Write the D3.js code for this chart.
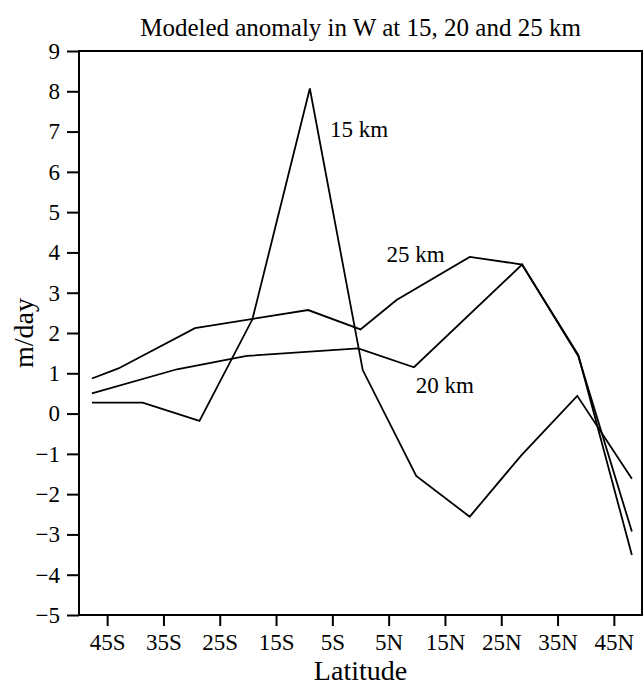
<!DOCTYPE html>
<html>
<head>
<meta charset="utf-8">
<script src="https://cdn.jsdelivr.net/npm/d3@7"></script>
<style>
  body { margin: 0; background: #fff; }
  svg text { font-family: "Liberation Serif", "Times New Roman", serif; fill: #000; }
</style>
</head>
<body>
<svg id="chart"></svg>
<script>
// values (latitude in degrees, south negative; W anomaly in m/day)
const lat15 = [-47.7, -38.7, -28.6, -19.2, -9.0, 0.4, 9.9, 19.4, 28.6, 38.5, 48.2];
const w15   = [0.27, 0.27, -0.18, 2.34, 8.07, 1.08, -1.55, -2.56, -1.03, 0.44, -1.62];

const lat20 = [-47.7, -32.6, -20.2, -0.4, 9.5, 28.7, 38.7, 48.2];
const w20   = [0.50, 1.10, 1.43, 1.62, 1.15, 3.70, 1.42, -2.93];

const lat25 = [-47.7, -43.0, -29.4, -9.3, 0.0, 6.4, 19.4, 28.7, 38.7, 48.2];
const w25   = [0.87, 1.12, 2.12, 2.57, 2.09, 2.82, 3.89, 3.70, 1.45, -3.51];

const xTicks = [-45, -35, -25, -15, -5, 5, 15, 25, 35, 45];
const xTickLabels = ["45S", "35S", "25S", "15S", "5S", "5N", "15N", "25N", "35N", "45N"];
const yTicks = [-5, -4, -3, -2, -1, 0, 1, 2, 3, 4, 5, 6, 7, 8, 9];

const seriesNames = ["15 km", "20 km", "25 km"];
// where each curve label sits, in data units
const labelLat = [-5.4, 9.8, 4.6];
const labelW   = [6.86, 0.52, 3.77];

const W = 643, H = 688;
const margin = {top: 51, right: 1, bottom: 73, left: 79};
const width = W - margin.left - margin.right;
const height = H - margin.top - margin.bottom;
const serif = '"Liberation Serif", "Times New Roman", serif';

const svg = d3.select("#chart").attr("width", W).attr("height", H);
const g = svg.append("g").attr("transform", "translate(" + margin.left + "," + margin.top + ")");

const x = d3.scaleLinear().domain([-50, 50]).range([0, width]);
const y = d3.scaleLinear().domain([-5, 9]).range([height, 0]);

const series = [
  d3.zip(lat15, w15),
  d3.zip(lat20, w20),
  d3.zip(lat25, w25)
];

const line = d3.line()
  .x(d => x(d[0]))
  .y(d => y(d[1]));

g.selectAll("path.curve").data(series).enter()
  .append("path")
  .attr("class", "curve")
  .attr("fill", "none")
  .attr("stroke", "#000")
  .attr("stroke-width", 1.8)
  .attr("stroke-linejoin", "miter")
  .attr("d", line);

// axes
const xAxis = g.append("g")
  .attr("transform", "translate(0," + height + ")")
  .call(d3.axisBottom(x).tickValues(xTicks)
    .tickFormat((d, i) => xTickLabels[i])
    .tickSize(11).tickSizeOuter(0).tickPadding(8));

const yAxis = g.append("g")
  .call(d3.axisLeft(y).tickValues(yTicks)
    .tickSize(12).tickSizeOuter(0).tickPadding(7));

[xAxis, yAxis].forEach(a => {
  a.attr("font-family", serif).attr("font-size", 23);
  a.select(".domain").remove();
  a.selectAll(".tick line").attr("stroke", "#000").attr("stroke-width", 2);
  a.selectAll(".tick text").attr("fill", "#000");
});

// frame
g.append("rect")
  .attr("width", width).attr("height", height)
  .attr("fill", "none").attr("stroke", "#000").attr("stroke-width", 2);

// curve labels
g.selectAll("text.lbl").data(seriesNames).enter()
  .append("text")
  .attr("class", "lbl")
  .attr("x", (d, i) => x(labelLat[i]))
  .attr("y", (d, i) => y(labelW[i]))
  .style("font-size", "23px")
  .text(d => d);

// titles
svg.append("text")
  .attr("x", margin.left + width / 2).attr("y", 36)
  .attr("text-anchor", "middle")
  .style("font-size", "25px")
  .text("Modeled anomaly in W at 15, 20 and 25 km");

svg.append("text")
  .attr("x", margin.left + width / 2).attr("y", 680)
  .attr("text-anchor", "middle")
  .style("font-size", "28px")
  .text("Latitude");

svg.append("text")
  .attr("transform", "translate(33," + (margin.top + height / 2) + ") rotate(-90)")
  .attr("text-anchor", "middle")
  .style("font-size", "28px")
  .text("m/day");
</script>
</body>
</html>
